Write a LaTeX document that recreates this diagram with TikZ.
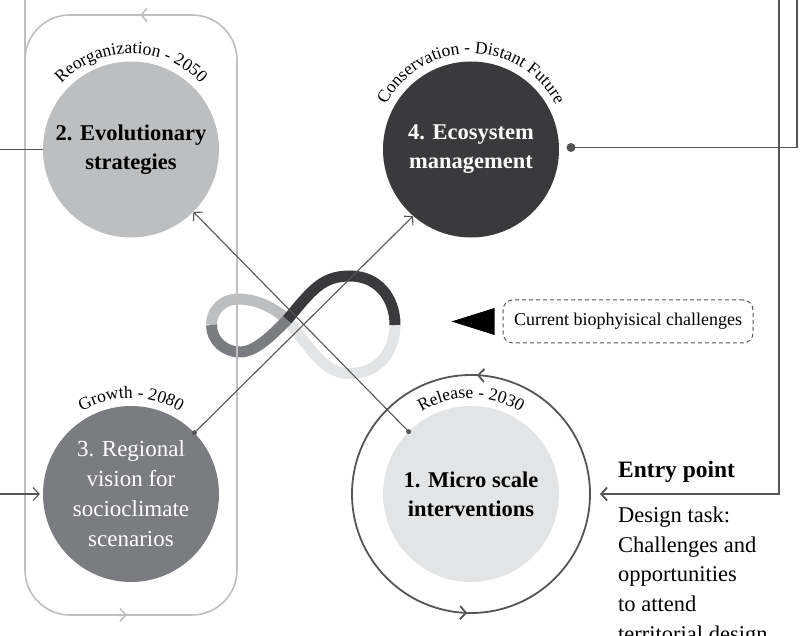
\documentclass[tikz,border=0pt]{standalone}
\usepackage{fontspec}
\setmainfont{Liberation Serif}
\usetikzlibrary{arrows.meta,decorations.text,decorations.markings,calc}

\definecolor{phaseA}{HTML}{E3E4E5}% release
\definecolor{phaseB}{HTML}{BDBEC0}% reorganization
\definecolor{phaseC}{HTML}{7B7C7F}% growth
\definecolor{phaseD}{HTML}{3A3A3C}% conservation
\definecolor{framegray}{HTML}{BFBFBF}
\definecolor{wiregray}{HTML}{555555}

\newcommand\arcfont{\fontsize{17.5}{17.5}\selectfont}

\tikzset{
  phase/.style={circle, minimum size=176pt, inner sep=0pt, align=center,
    font=\fontsize{22.5}{29}\selectfont\bfseries},
  barb/.style={-{Straight Barb[length=6pt,width=13pt]}},
  wire/.style={draw=wiregray, line width=1.1pt},
  feed/.style={draw=wiregray, line width=1.8pt},
  frameline/.style={draw=framegray, line width=1.6pt},
  band/.style={line width=11pt, line cap=butt},
}

\begin{document}
\begin{tikzpicture}[x=1pt,y=1pt]
\useasboundingbox (0,0) rectangle (809,636);

% adaptive-cycle loop
\draw[band, phaseA] (395,311) .. controls (395,284) and (378,262.5) .. (350,262.5)
  .. controls (322,262.5) and (310,290) .. (287,316);
\draw[band, phaseB] (211.5,311) .. controls (211.5,326) and (223,337) .. (238,337)
  .. controls (254,337) and (273,330) .. (287,316);
\draw[band, phaseD] (287,316) .. controls (312,346) and (322,360) .. (350,360)
  .. controls (378,360) and (395,338) .. (395,311);
\draw[band, phaseC] (211.5,311) .. controls (211.5,296) and (224,284) .. (240,284)
  .. controls (256,284) and (273,302) .. (287,316);

% frame around phases 2 and 3
\node[frameline, rounded corners=45pt, minimum width=212pt, minimum height=600pt,
  inner sep=0pt] (frame) at (131,321) {};
\coordinate (topL) at (25,636);
\draw[frameline] (topL) -- (25,576);
\draw[frameline, barb] (152,621) -- (140,621);
\draw[frameline, barb] (115,21) -- (127,21);

% phases
\node[phase, fill=phaseB] (c2) at (131,486.5) {2. Evolutionary\\strategies};
\node[phase, fill=phaseD, text=white] (c4) at (471,486.5) {4. Ecosystem\\management};
\node[phase, fill=phaseC, text=white, font=\fontsize{23}{30}\selectfont] (c3) at (131,142)
  {3. Regional\\vision for\\socioclimate\\scenarios};
\node[phase, fill=phaseA] (c1) at (471,142) {1. Micro scale\\interventions};
\node[circle, minimum size=238pt, inner sep=0pt, feed] (r1) at (c1) {};
\path[color=wiregray, line width=1.8pt, postaction={decorate, decoration={markings,
    mark=at position 0.242 with {\arrow{Straight Barb[length=6pt,width=13pt]}},
    mark=at position 0.745 with {\arrow{Straight Barb[length=6pt,width=13pt]}}}}]
  (r1.center) circle[radius=119];

% phase names along the circles
\path[decorate, decoration={text along path, text align=center,
    text={|\arcfont|Reorganization - 2050}}]
  ($(c2)+(175:96)$) arc[start angle=175, end angle=5, radius=96];
\path[decorate, decoration={text along path, text align=center,
    text={|\arcfont|Conservation - Distant Future}}]
  ($(c4)+(178:96)$) arc[start angle=178, end angle=2, radius=96];
\path[decorate, decoration={text along path, text align=center,
    text={|\arcfont|Growth - 2080}}]
  ($(c3)+(170:96)$) arc[start angle=170, end angle=10, radius=96];
\path[decorate, decoration={text along path, text align=center,
    text={|\arcfont|Release - 2030}}]
  ($(c1)+(170:96)$) arc[start angle=170, end angle=10, radius=96];

% connectors
\coordinate (in2) at (0,486.5);
\draw[wire] (in2) -- (c2.west);
\coordinate (in3) at (0,142);
\draw[wire, barb, shorten >=3pt] (in3) -- (c3.west);

\draw[wire, barb] (c3.44) -- (c4.229);
\fill[wiregray] (c3.44) circle (2.5);
\draw[wire, barb] (c1.135) -- (c2.-45);
\fill[wiregray] (c1.135) circle (2.5);

\coordinate (d4) at (571,488.5);
\coordinate (top4) at (797,636);
\draw[feed] (d4) -- (top4 |- d4) -- (top4);
\fill[wiregray] (d4) circle (4.5);
\coordinate (top1) at (779,636);
\draw[feed, barb, shorten >=9pt] (top1) -- (top1 |- r1.east) -- (r1.east);

% current challenges
\node[draw=wiregray, line width=1pt, dash pattern=on 4pt off 3pt, rounded corners=10pt,
  minimum width=250pt, minimum height=43pt, inner sep=0pt,
  font=\fontsize{18}{18}\selectfont] (cbc) at (628,314.5) {Current biophyisical challenges};
\fill ($(cbc.west)+(-8,13.5)$) -- ($(cbc.west)+(-8,-13.5)$) -- ($(cbc.west)+(-51,0)$) -- cycle;

% entry point
\node[anchor=base west, inner sep=0pt, font=\fontsize{23.5}{28}\selectfont\bfseries]
  (entry) at (618,158) {Entry point};
\node[anchor=north west, inner sep=0pt, align=left, font=\fontsize{22.5}{29.7}\selectfont]
  (task) at (618,129.5) {Design task:\\Challenges and\\opportunities\\to attend\\territorial design};
\end{tikzpicture}
\end{document}
